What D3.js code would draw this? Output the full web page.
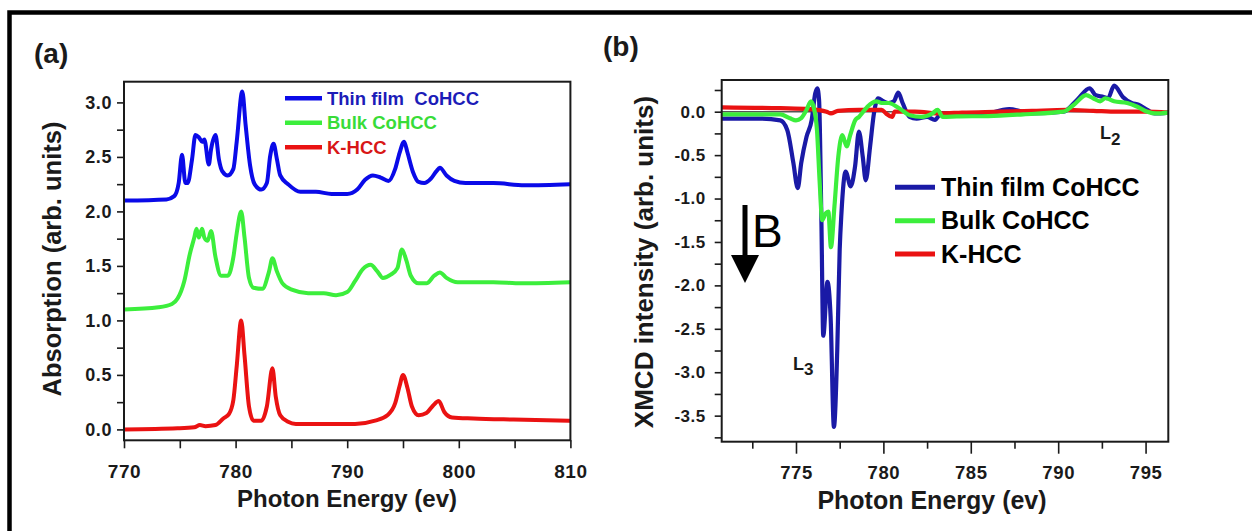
<!DOCTYPE html>
<html><head><meta charset="utf-8">
<script src="https://cdn.jsdelivr.net/npm/d3@7"></script>
<style>
html,body{margin:0;padding:0;background:#fff;}
svg{display:block;font-family:Arial,"Liberation Sans",Helvetica,sans-serif;}
</style></head><body>
<svg id="chart" width="1252" height="531"></svg>
<script>
// ---------- Panel (a): XAS absorption ----------
const xasThinE = [770,773.8,774.5,774.9,775.2,775.5,775.7,776.1,776.4,776.7,777.0,777.2,777.6,777.8,778.2,778.5,778.8,779.3,779.8,780.1,780.6,780.9,781.3,781.7,782.3,782.8,783.1,783.4,783.7,784.0,784.7,785.8,787.2,788.6,790.0,790.9,791.6,792.3,793.0,793.7,794.3,794.7,795.1,795.4,795.9,796.4,796.9,797.5,798.0,798.3,798.9,799.6,800.6,803.1,805.9,810];
const xasThinV = [2.10,2.11,2.14,2.26,2.52,2.26,2.26,2.48,2.70,2.68,2.64,2.66,2.43,2.57,2.70,2.48,2.37,2.33,2.39,2.64,3.10,2.79,2.42,2.25,2.20,2.26,2.51,2.62,2.48,2.33,2.25,2.18,2.18,2.16,2.16,2.20,2.29,2.33,2.31,2.28,2.39,2.54,2.64,2.54,2.36,2.27,2.26,2.30,2.37,2.40,2.33,2.28,2.26,2.26,2.24,2.25];

const xasBulkE = [770,773.1,774.3,774.8,775.4,775.9,776.3,776.5,776.7,777.0,777.2,777.5,777.8,778.2,778.7,779.3,779.8,780.1,780.5,780.8,781.2,781.6,782.4,783.0,783.3,783.7,784.2,785.1,786.5,787.9,789.0,790.0,790.7,791.4,792.1,792.7,793.2,793.9,794.5,794.9,795.3,795.7,796.4,797.1,797.8,798.3,798.9,799.9,803.1,805.6,810];
const xasBulkV = [1.10,1.12,1.15,1.20,1.36,1.61,1.76,1.84,1.76,1.84,1.76,1.73,1.82,1.58,1.41,1.41,1.58,1.80,2.00,1.76,1.39,1.30,1.29,1.45,1.57,1.45,1.34,1.28,1.25,1.25,1.23,1.26,1.36,1.47,1.51,1.45,1.39,1.42,1.48,1.65,1.55,1.41,1.34,1.34,1.41,1.44,1.39,1.35,1.35,1.34,1.35];

const xasKE = [770,774.8,776.3,776.8,777.3,778.2,778.9,779.4,779.8,780.1,780.5,780.8,781.2,781.6,782.3,782.8,783.3,783.6,784.0,784.7,785.4,787.2,790.7,792.5,793.6,794.3,794.7,795.0,795.4,795.8,796.4,797.1,797.7,798.2,798.7,799.4,801.3,804.9,810];
const xasKV = [0.00,0.01,0.02,0.04,0.03,0.04,0.10,0.14,0.27,0.58,1.00,0.68,0.21,0.08,0.08,0.21,0.56,0.30,0.13,0.07,0.05,0.05,0.05,0.08,0.13,0.24,0.40,0.50,0.38,0.21,0.13,0.15,0.22,0.26,0.16,0.11,0.10,0.09,0.08];

const xasXTicks = [770,775,780,785,790,795,800,805,810];
const xasXLabels = [770,780,790,800,810];
const xasYTicks = [0,0.25,0.5,0.75,1,1.25,1.5,1.75,2,2.25,2.5,2.75,3];
const xasYLabels = [0,0.5,1,1.5,2,2.5,3];

// ---------- Panel (b): XMCD ----------
const xmcdThinE = [770.75,773.0,774.1,774.5,774.85,775.1,775.3,775.6,775.9,776.1,776.22,776.32,776.45,776.56,776.8,776.98,777.17,777.36,777.5,777.6,777.84,778.13,778.38,778.6,778.82,778.99,779.24,779.46,779.7,780.0,780.3,780.6,780.85,781.1,781.5,781.9,782.5,782.95,783.3,784.0,785.5,787.2,788.5,790.3,791.1,791.8,792.15,792.6,792.85,793.2,793.7,794.2,794.6,795.1,795.5,796.3];
const xmcdThinV = [-0.08,-0.08,-0.10,-0.21,-0.59,-0.88,-0.59,-0.29,-0.095,0.21,0.27,0.14,-1.2,-2.58,-1.96,-2.36,-3.63,-2.75,-1.59,-1.17,-0.69,-0.86,-0.63,-0.23,-0.52,-0.79,-0.40,-0.02,0.155,0.12,0.10,0.12,0.22,0.10,-0.06,-0.08,-0.06,-0.095,-0.02,-0.03,-0.04,0.03,-0.02,0.00,0.14,0.27,0.19,0.17,0.155,0.30,0.17,0.10,0.08,0.02,-0.02,-0.01];

const xmcdBulkE = [770.75,774.1,774.65,775.0,775.3,775.6,775.86,776.0,776.2,776.35,776.5,776.7,776.85,777.0,777.2,777.42,777.65,777.9,778.1,778.4,778.6,778.85,779.1,779.6,779.9,780.3,780.9,781.5,782.2,782.8,783.1,783.4,784.2,786.0,788.0,790.3,790.9,791.6,792.0,792.4,792.7,793.2,793.95,794.5,795.1,795.6,796.3];
const xmcdBulkV = [-0.03,-0.03,-0.075,-0.10,-0.075,0.02,0.12,0.06,-0.21,-0.79,-1.25,-1.17,-1.15,-1.56,-1.09,-0.52,-0.27,-0.40,-0.27,-0.095,-0.06,0.00,0.06,0.12,0.10,0.10,0.04,-0.04,-0.06,-0.02,0.02,-0.06,-0.055,-0.05,-0.03,0.00,0.08,0.19,0.155,0.12,0.155,0.12,0.10,0.06,0.00,-0.02,-0.01];

const xmcdKE = [770.75,774.1,775.8,776.75,777.0,777.4,778.6,779.9,780.15,780.5,780.65,781.8,783.3,784.5,786.7,788.5,790.5,792.0,793.4,795.0,796.3];
const xmcdKV = [0.05,0.04,0.03,0.00,-0.02,0.01,0.02,0.02,-0.02,-0.06,0.00,0.00,-0.02,-0.01,0.00,0.01,0.02,0.01,0.00,0.00,-0.01];

const xmcdXMajor = [775,780,785,790,795];
const xmcdXMinor = [772.5,777.5,782.5,787.5,792.5];
const xmcdYTicks = [0.25,0,-0.25,-0.5,-0.75,-1,-1.25,-1.5,-1.75,-2,-2.25,-2.5,-2.75,-3,-3.25,-3.5,-3.75];
const xmcdYLabels = [0,-0.5,-1,-1.5,-2,-2.5,-3,-3.5];

const seriesNames = ["Thin film\u00a0 CoHCC","Bulk CoHCC","K-HCC"];
const seriesNamesB = ["Thin film CoHCC","Bulk CoHCC","K-HCC"];
const colorsA = ["#0a0ae8","#3cee3c","#ea1212"];
const textColorsA = ["#1c1cb8","#38dc38","#d81616"];
const colorsB = ["#1a1aa6","#3cee3c","#ea1212"];

const svg = d3.select("#chart");
const ink = "#1a1a1a";

// outer frame
svg.append("path").attr("d","M9.5,560 L9.5,12.5 L1270,12.5")
  .attr("fill","none").attr("stroke","#000").attr("stroke-width",4.5);

function toPts(E,V){ return E.map((e,i)=>({e, v:V[i]})); }

// ===== Panel (a) =====
const xa = d3.scaleLinear().domain([770,810]).range([124,570.4]);
const ya = d3.scaleLinear().domain([-0.1,3.19]).range([440.3,81.7]);
const ga = svg.append("g");

ga.append("defs").append("clipPath").attr("id","clipA").append("rect")
  .attr("x",124).attr("y",81.7).attr("width",446.4).attr("height",358.6);

const lineA = d3.line().x(d=>xa(d.e)).y(d=>ya(d.v)).curve(d3.curveMonotoneX);
[[xasThinE,xasThinV],[xasBulkE,xasBulkV],[xasKE,xasKV]].forEach(([E,V],i)=>{
  ga.append("path").datum(toPts(E,V)).attr("d",lineA).attr("fill","none")
    .attr("stroke",colorsA[i]).attr("stroke-width",4).attr("stroke-linejoin","round")
    .attr("clip-path","url(#clipA)");
});

const axA_x = ga.append("g").attr("transform","translate(0,440.3)")
  .call(d3.axisBottom(xa).tickValues(xasXTicks).tickSize(8).tickPadding(16)
    .tickFormat(d=> xasXLabels.includes(d) ? String(d) : ""));
const axA_y = ga.append("g").attr("transform","translate(124,0)")
  .call(d3.axisLeft(ya).tickValues(xasYTicks).tickSize(7).tickPadding(5)
    .tickFormat(d=> xasYLabels.includes(d) ? d.toFixed(1) : ""));
[axA_x,axA_y].forEach(a=>{
  a.select(".domain").remove();
  a.selectAll("line").attr("stroke",ink).attr("stroke-width",1.6);
  a.selectAll("text").attr("fill",ink).attr("font-weight","bold")
    .attr("font-family","Arial, 'Liberation Sans', sans-serif");
});
axA_x.selectAll("text").attr("font-size",19).attr("letter-spacing",0.6);
axA_y.selectAll("text").attr("font-size",18).attr("letter-spacing",0.6);

ga.append("rect").attr("x",124).attr("y",81.7).attr("width",446.4).attr("height",358.6)
  .attr("fill","none").attr("stroke",ink).attr("stroke-width",2);

// legend (a)
const legA = ga.append("g");
seriesNames.forEach((n,i)=>{
  const yy = 98.3 + i*24.5;
  legA.append("line").attr("x1",285).attr("x2",322).attr("y1",yy).attr("y2",yy)
    .attr("stroke",colorsA[i]).attr("stroke-width",4.5);
  legA.append("text").attr("x",327).attr("y",yy+6.5).text(n)
    .attr("fill",textColorsA[i]).attr("font-weight","bold").attr("font-size",18.5)
    .style("white-space","pre");
});

ga.append("text").attr("x",347).attr("y",507).attr("text-anchor","middle")
  .attr("font-weight","bold").attr("font-size",24).attr("fill",ink).text("Photon Energy (ev)");
ga.append("text").attr("transform","translate(61,259) rotate(-90)").attr("text-anchor","middle")
  .attr("font-weight","bold").attr("font-size",25.5).attr("fill",ink).text("Absorption (arb. units)");
ga.append("text").attr("x",34).attr("y",63).attr("font-weight","bold").attr("font-size",28)
  .attr("fill",ink).text("(a)");

// ===== Panel (b) =====
const xb = d3.scaleLinear().domain([770.75,796.3]).range([721.7,1168.3]);
const yb = d3.scaleLinear().domain([-3.80,0.365]).range([441.7,80]);
const gb = svg.append("g");

gb.append("defs").append("clipPath").attr("id","clipB").append("rect")
  .attr("x",721.7).attr("y",80).attr("width",446.6).attr("height",361.7);

gb.append("line").attr("x1",xb(770.75)).attr("x2",xb(796.3)).attr("y1",yb(0)).attr("y2",yb(0))
  .attr("stroke","#555").attr("stroke-width",1.5);

const lineB = d3.line().x(d=>xb(d.e)).y(d=>yb(d.v)).curve(d3.curveMonotoneX);
[[xmcdThinE,xmcdThinV,0],[xmcdKE,xmcdKV,2],[xmcdBulkE,xmcdBulkV,1]].forEach(([E,V,i])=>{
  gb.append("path").datum(toPts(E,V)).attr("d",lineB).attr("fill","none")
    .attr("stroke",colorsB[i]).attr("stroke-width",4.2).attr("stroke-linejoin","round")
    .attr("clip-path","url(#clipB)");
});

const axB_x = gb.append("g").attr("transform","translate(0,441.7)")
  .call(d3.axisBottom(xb).tickValues(xmcdXMajor).tickSize(12).tickPadding(12)
    .tickFormat(d=>String(d)));
const axB_xm = gb.append("g").attr("transform","translate(0,441.7)")
  .call(d3.axisBottom(xb).tickValues(xmcdXMinor).tickSize(7).tickFormat(()=>""));
const axB_y = gb.append("g").attr("transform","translate(721.7,0)")
  .call(d3.axisLeft(yb).tickValues(xmcdYTicks).tickSize(7).tickPadding(9)
    .tickFormat(d=> xmcdYLabels.includes(d) ? d.toFixed(1) : ""));
[axB_x,axB_xm,axB_y].forEach(a=>{
  a.select(".domain").remove();
  a.selectAll("line").attr("stroke",ink).attr("stroke-width",1.6);
  a.selectAll("text").attr("fill",ink).attr("font-weight","bold")
    .attr("font-family","Arial, 'Liberation Sans', sans-serif");
});
axB_x.selectAll("text").attr("font-size",18.5).attr("letter-spacing",0.6);
axB_y.selectAll("text").attr("font-size",17).attr("letter-spacing",0.5);

gb.append("rect").attr("x",721.7).attr("y",80).attr("width",446.6).attr("height",361.7)
  .attr("fill","none").attr("stroke",ink).attr("stroke-width",2);

// legend (b)
seriesNamesB.forEach((n,i)=>{
  const yy = 187.3 + i*33.4;
  gb.append("line").attr("x1",895).attr("x2",935).attr("y1",yy).attr("y2",yy)
    .attr("stroke",colorsB[i]).attr("stroke-width",5);
  gb.append("text").attr("x",941).attr("y",yy+8.6).text(n)
    .attr("fill","#000").attr("font-weight","bold").attr("font-size",25);
});

// B arrow
gb.append("line").attr("x1",745).attr("x2",745).attr("y1",205).attr("y2",258)
  .attr("stroke","#000").attr("stroke-width",5);
gb.append("path").attr("d","M731,255 L759,255 L745,283 Z").attr("fill","#000");
gb.append("text").attr("x",752).attr("y",247).attr("font-size",46).attr("fill","#000").text("B");

// L3, L2 labels
const l3 = gb.append("text").attr("x",793).attr("y",370).attr("font-weight","bold").attr("font-size",18).attr("fill",ink);
l3.append("tspan").text("L");
l3.append("tspan").attr("dy",5).attr("font-size",17).text("3");
const l2 = gb.append("text").attr("x",1100).attr("y",139).attr("font-weight","bold").attr("font-size",18).attr("fill",ink);
l2.append("tspan").text("L");
l2.append("tspan").attr("dy",6).attr("font-size",17).text("2");

gb.append("text").attr("x",932).attr("y",509).attr("text-anchor","middle")
  .attr("font-weight","bold").attr("font-size",25).attr("fill",ink).text("Photon Energy (ev)");
gb.append("text").attr("transform","translate(653,262) rotate(-90)").attr("text-anchor","middle")
  .attr("font-weight","bold").attr("font-size",26).attr("fill",ink).text("XMCD intensity (arb. units)");
gb.append("text").attr("x",603).attr("y",56).attr("font-weight","bold").attr("font-size",28)
  .attr("fill",ink).text("(b)");
</script>
</body></html>
